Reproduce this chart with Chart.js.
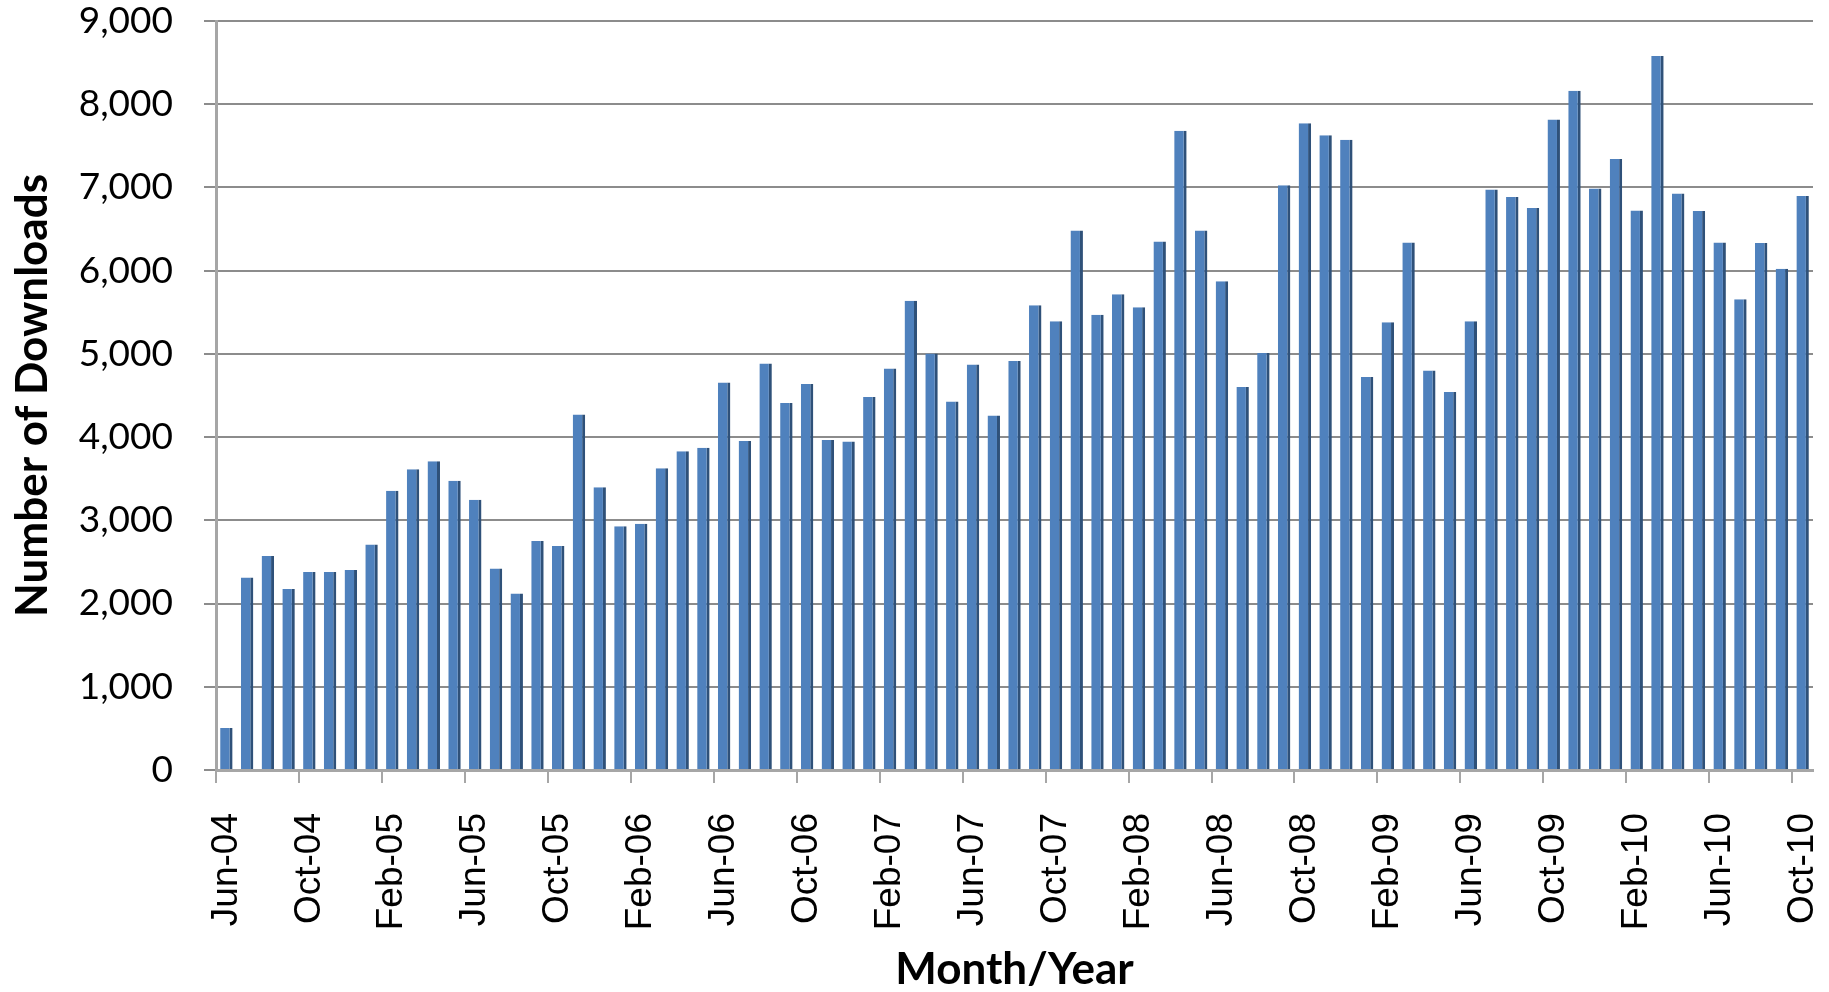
<!DOCTYPE html>
<html>
<head>
<meta charset="utf-8">
<title>Number of Downloads</title>
<script src="https://cdn.jsdelivr.net/npm/chart.js@4/dist/chart.umd.min.js"></script>
<style>
  html, body { margin: 0; padding: 0; background: #fff; }
  #wrap { width: 1829px; height: 992px; }
</style>
</head>
<body>
<div id="wrap"><canvas id="chartDownloads" width="1829" height="992"></canvas></div>
<script>
const meses = [
  "Jun-04", "Jul-04", "Aug-04", "Sep-04", "Oct-04", "Nov-04", "Dec-04",
  "Jan-05", "Feb-05", "Mar-05", "Apr-05", "May-05", "Jun-05", "Jul-05", "Aug-05", "Sep-05", "Oct-05", "Nov-05", "Dec-05",
  "Jan-06", "Feb-06", "Mar-06", "Apr-06", "May-06", "Jun-06", "Jul-06", "Aug-06", "Sep-06", "Oct-06", "Nov-06", "Dec-06",
  "Jan-07", "Feb-07", "Mar-07", "Apr-07", "May-07", "Jun-07", "Jul-07", "Aug-07", "Sep-07", "Oct-07", "Nov-07", "Dec-07",
  "Jan-08", "Feb-08", "Mar-08", "Apr-08", "May-08", "Jun-08", "Jul-08", "Aug-08", "Sep-08", "Oct-08", "Nov-08", "Dec-08",
  "Jan-09", "Feb-09", "Mar-09", "Apr-09", "May-09", "Jun-09", "Jul-09", "Aug-09", "Sep-09", "Oct-09", "Nov-09", "Dec-09",
  "Jan-10", "Feb-10", "Mar-10", "Apr-10", "May-10", "Jun-10", "Jul-10", "Aug-10", "Sep-10", "Oct-10"
]

const downloads = [
  506, 2313, 2572, 2175, 2380, 2380, 2404,
  2711, 3355, 3614, 3711, 3476, 3247, 2422, 2120, 2753, 2693, 4271, 3398,
  2928, 2958, 3627, 3831, 3873, 4657, 3952, 4886, 4410, 4639, 3964, 3946,
  4482, 4825, 5639, 5006, 4428, 4873, 4259, 4916, 5584, 5392, 6482, 5470,
  5717, 5560, 6349, 7681, 6482, 5873, 4602, 5012, 7025, 7771, 7627, 7572,
  4723, 5380, 6337, 4801, 4542, 5392, 6976, 6886, 6753, 7815, 8163, 6988,
  7343, 6723, 8578, 6928, 6717, 6337, 5657, 6331, 6024, 6898
]

// labels only on every 4th month, as in the original
const rotulosX = ["Jun-04", "Oct-04", "Feb-05", "Jun-05", "Oct-05", "Feb-06", "Jun-06", "Oct-06",
  "Feb-07", "Jun-07", "Oct-07", "Feb-08", "Jun-08", "Oct-08", "Feb-09", "Jun-09", "Oct-09",
  "Feb-10", "Jun-10", "Oct-10"]

const yMin = 0
const yMax = 9000
const yPasso = 1000

const corGrade = "#8c8c8c"
const corEixo = "#a6a6a6"

// fixed sizes for the axes, and no extra padding for label overflow
function ajustarX(scale) {
  scale.height = 222
  scale.paddingLeft = 0
  scale.paddingRight = 0
}

function ajustarY(scale) {
  scale.width = 216
  scale.paddingTop = 0
  scale.paddingBottom = 0
}

new Chart(document.getElementById("chartDownloads"), {
  type: "bar",
  data: {
    labels: meses,
    datasets: [{
      label: "Downloads",
      data: downloads,
      backgroundColor: "#4f81bd",
      borderColor: "#2f5179",
      borderWidth: { top: 0, right: 3, bottom: 0, left: 0 },
      borderSkipped: false,
      categoryPercentage: 1,
      barPercentage: 0.6
    }]
  },
  options: {
    responsive: false,
    animation: false,
    layout: {
      autoPadding: false,
      padding: { top: 21, right: 16, left: 0, bottom: 0 }
    },
    plugins: {
      legend: { display: false },
      tooltip: { enabled: false }
    },
    scales: {
      x: {
        offset: true,
        afterFit: ajustarX,
        grid: {
          offset: true,
          drawOnChartArea: false,
          tickLength: 13,
          lineWidth: 2,
          color: ctx => (ctx.index % 4 === 0 ? corEixo : "rgba(0,0,0,0)")
        },
        border: { display: true, color: corEixo, width: 3 },
        ticks: {
          autoSkip: false,
          minRotation: 90,
          maxRotation: 90,
          padding: 30,
          color: "#000",
          font: { family: "'Liberation Sans', Arial, sans-serif", size: 37 },
          callback: (v, i) => (rotulosX.includes(meses[i]) ? meses[i] : "")
        },
        title: {
          display: true,
          text: "Month/Year",
          color: "#000",
          padding: { top: 0, bottom: 0 },
          font: { family: "Lato, 'Open Sans', sans-serif", size: 44, weight: "bold", lineHeight: 1.0 }
        }
      },
      y: {
        min: yMin,
        max: yMax,
        afterFit: ajustarY,
        grid: {
          color: corGrade,
          lineWidth: 2,
          tickLength: 12
        },
        border: { display: true, color: corEixo, width: 3 },
        ticks: {
          stepSize: yPasso,
          padding: 31,
          color: "#000",
          font: { family: "Lato, 'Open Sans', sans-serif", size: 37 },
          callback: v => v.toLocaleString("en-US")
        },
        title: {
          display: true,
          text: "Number of Downloads",
          color: "#000",
          padding: { top: 11, bottom: 0 },
          font: { family: "Lato, 'Open Sans', sans-serif", size: 44, weight: "bold", lineHeight: 1.0 }
        }
      }
    }
  }
})
</script>
</body>
</html>
